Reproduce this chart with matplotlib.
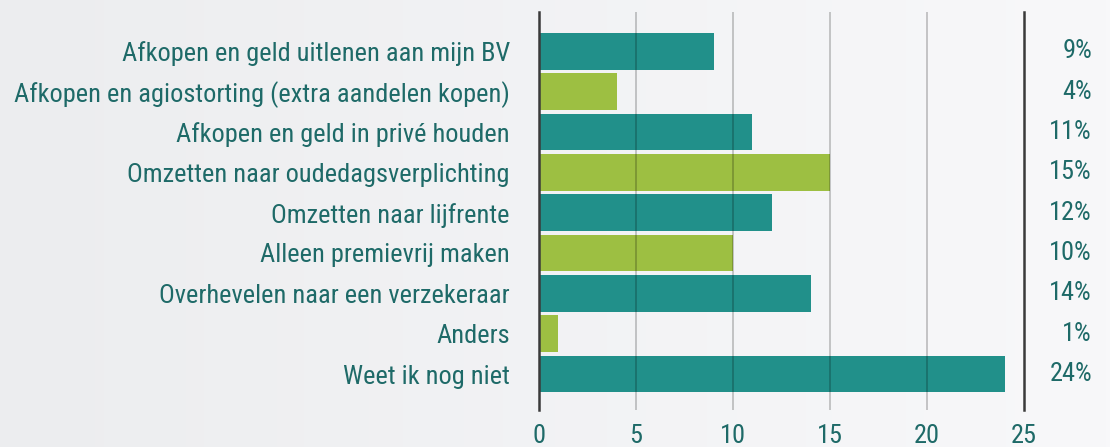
import matplotlib
matplotlib.use("Agg")
import matplotlib.pyplot as plt
import numpy as np
from matplotlib.transforms import blended_transform_factory
from matplotlib.colors import LinearSegmentedColormap

categories = [
    "Afkopen en geld uitlenen aan mijn BV",
    "Afkopen en agiostorting (extra aandelen kopen)",
    "Afkopen en geld in privé houden",
    "Omzetten naar oudedagsverplichting",
    "Omzetten naar lijfrente",
    "Alleen premievrij maken",
    "Overhevelen naar een verzekeraar",
    "Anders",
    "Weet ik nog niet",
]
values = [9, 4, 11, 15, 12, 10, 14, 1, 24]
pct_labels = ["9%", "4%", "11%", "15%", "12%", "10%", "14%", "1%", "24%"]
xticks = [0, 5, 10, 15, 20, 25]

teal = "#21908A"
green = "#9DBF42"
txt = "#1E6A68"

plt.rcParams["font.family"] = ["Roboto Condensed", "DejaVu Sans"]

fig = plt.figure(figsize=(11.1, 4.47), dpi=100)
bg = fig.add_axes([0, 0, 1, 1], zorder=-10)
grad = np.linspace(0, 1, 256).reshape(1, -1)
cm = LinearSegmentedColormap.from_list("bg", ["#ECEDEF", "#F8F8FA"])
bg.imshow(grad, aspect="auto", cmap=cm, extent=[0, 1, 0, 1])
bg.axis("off")

ax = fig.add_axes([539/1110, 37/447, (1024-539)/1110, (410-12)/447])
ax.set_facecolor("none")
y = np.arange(len(categories))
colors = [teal if i % 2 == 0 else green for i in range(len(categories))]
ax.barh(y, values, height=0.91, color=colors, zorder=1)
ax.set_xlim(0, 25)
ax.set_ylim(8.89, -0.97)
for xv in xticks[1:-1]:
    ax.axvline(xv, color="black", alpha=0.22, lw=1.3, zorder=3)
for s in ["top", "bottom"]:
    ax.spines[s].set_visible(False)
for s in ["left", "right"]:
    ax.spines[s].set_color("#3A3A3A")
    ax.spines[s].set_linewidth(1.8)
ax.set_xticks(xticks)
ax.set_xticklabels([str(v) for v in xticks])
ax.set_yticks(y)
ax.set_yticklabels(categories)
ax.tick_params(axis="both", length=0, colors=txt, labelsize=19)
ax.tick_params(axis="y", pad=21)
ax.tick_params(axis="x", pad=10)

tr = blended_transform_factory(fig.transFigure, ax.transData)
for yi, lab in zip(y, pct_labels):
    ax.text(1092/1110, yi, lab, transform=tr, ha="right", va="center",
            color=txt, fontsize=19)

fig.savefig("out.png", dpi=100)
